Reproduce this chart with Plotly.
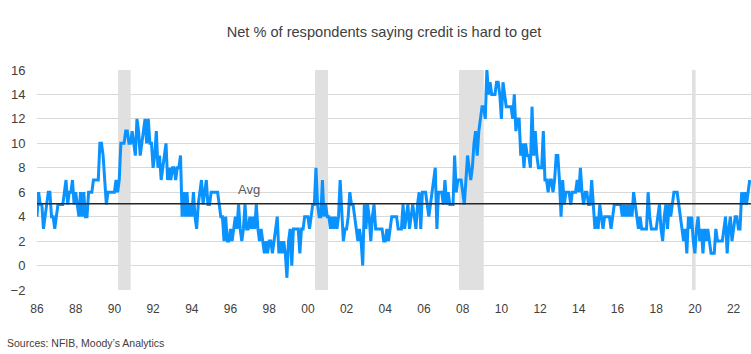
import plotly.graph_objects as go

title_text = "Net % of respondents saying credit is hard to get"
source_text = "Sources: NFIB, Moody’s Analytics"

start_year = 1986
# Monthly values, Jan 1986 onward (one row per year)
values = (
    [4, 6, 5, 5, 3, 4, 5, 6, 6, 4, 4, 3] +          # 1986
    [4, 5, 5, 5, 5, 6, 7, 5, 6, 6, 7, 5] +          # 1987
    [6, 5, 4, 6, 4, 6, 4, 4, 6, 6, 6, 7] +          # 1988
    [7, 7, 7, 10, 10, 9, 7, 5, 6, 6, 6, 6] +        # 1989
    [6, 7, 6, 7, 10, 10, 10, 11, 11, 10, 10, 11] +  # 1990
    [10, 9, 12, 11, 9, 10, 11, 12, 10, 12, 10, 10] +  # 1991
    [8, 9, 11, 8, 9, 7, 8, 9, 10, 7, 8, 7] +        # 1992
    [8, 8, 7, 8, 8, 9, 4, 6, 4, 6, 4, 5] +          # 1993
    [4, 6, 4, 3, 5, 6, 7, 5, 6, 7, 5, 5] +          # 1994
    [6, 6, 6, 6, 6, 5, 4, 4, 2, 4, 2, 2] +          # 1995
    [3, 2, 3, 4, 3, 5, 3, 2, 3, 5, 3, 3] +          # 1996
    [4, 3, 4, 3, 5, 3, 2, 3, 2, 1, 2, 1] +          # 1997
    [2, 2, 1, 2, 3, 4, 1, 2, 1, 2, 1, -1] +         # 1998
    [2, 3, 0, 3, 3, 3, 3, 1, 3, 3, 4, 4] +          # 1999
    [4, 3, 4, 5, 5, 8, 5, 4, 4, 7, 4, 5] +          # 2000
    [4, 4, 3, 4, 3, 4, 3, 4, 7, 4, 2, 3] +          # 2001
    [3, 4, 6, 5, 5, 4, 3, 2, 3, 2, 0, 5] +          # 2002
    [3, 5, 4, 2, 4, 5, 3, 3, 3, 3, 3, 2] +          # 2003
    [2, 3, 2, 3, 4, 4, 4, 4, 3, 3, 3, 5] +          # 2004
    [3, 4, 5, 3, 4, 5, 4, 3, 5, 6, 3, 6] +          # 2005
    [6, 6, 5, 4, 5, 6, 7, 8, 3, 6, 6, 6] +          # 2006
    [5, 7, 5, 6, 5, 5, 5, 9, 6, 7, 7, 7] +          # 2007
    [6, 5, 7, 9, 8, 7, 8, 10, 11, 9, 11, 12] +      # 2008
    [13, 13, 12, 16, 14, 15, 14, 14, 14, 15, 15, 14] +  # 2009
    [12, 15, 14, 13, 13, 13, 13, 12, 14, 11, 12, 12] +  # 2010
    [9, 10, 8, 10, 9, 9, 8, 13, 9, 11, 9, 8] +      # 2011
    [8, 8, 11, 7, 7, 6, 7, 7, 6, 7, 9, 9] +         # 2012
    [7, 4, 7, 5, 6, 6, 6, 5, 6, 6, 6, 7] +          # 2013
    [6, 8, 6, 5, 6, 6, 5, 5, 7, 5, 3, 4] +          # 2014
    [3, 5, 4, 3, 4, 4, 4, 4, 3, 4, 5, 5] +          # 2015
    [5, 5, 5, 4, 5, 4, 5, 4, 5, 4, 6, 5] +          # 2016
    [4, 3, 4, 3, 3, 3, 3, 6, 4, 3, 3, 3] +          # 2017
    [3, 4, 5, 3, 2, 4, 5, 3, 5, 4, 5, 6] +          # 2018
    [6, 6, 5, 4, 3, 2, 3, 1, 4, 3, 4, 2] +          # 2019
    [1, 3, 4, 2, 3, 1, 3, 2, 3, 2, 1, 1] +          # 2020
    [1, 3, 2, 2, 2, 2, 3, 4, 1, 3, 4, 2] +          # 2021
    [3, 4, 4, 3, 3, 6, 5, 6, 5, 6, 7]               # 2022
)

avg_value = 5.05
avg_label = "Avg"

recession_starts = [1990.19, 2000.37, 2007.81, 2019.85]
recession_ends = [1990.84, 2001.04, 2009.09, 2020.04]

tick_vals = list(range(1986, 2023, 2))
tick_text = ["86", "88", "90", "92", "94", "96", "98", "00", "02", "04",
             "06", "08", "10", "12", "14", "16", "18", "20", "22"]
y_ticks = list(range(-2, 17, 2))

x_dates = [start_year + i / 12 for i in range(len(values))]

FONT = "Liberation Sans, Arial, sans-serif"

W, H = 751, 354
ML, MR, MT, MB = 37, 0, 70, 64
PW, PH = W - ML - MR, H - MT - MB


def px_to_paper(px, py):
    return (px - ML) / PW, (H - MB - py) / PH


fig = go.Figure()

fig.add_trace(go.Scatter(
    x=x_dates, y=values, mode="lines",
    line=dict(color="#0A93FF", width=3),
    hoverinfo="skip", showlegend=False, cliponaxis=False,
))

fig.add_trace(go.Scatter(
    x=[1986.0, 2022.9], y=[avg_value, avg_value], mode="lines",
    line=dict(color="#262626", width=1.5),
    hoverinfo="skip", showlegend=False,
))

for s, e in zip(recession_starts, recession_ends):
    fig.add_shape(type="rect", xref="x", yref="y", x0=s, x1=e, y0=-2, y1=16,
                  fillcolor="#E0E0E0", line=dict(width=0), layer="between")

fig.add_annotation(x=1996.95, y=6.26, xref="x", yref="y", text=avg_label,
                   showarrow=False, xanchor="center", yanchor="middle",
                   font=dict(family=FONT, size=13, color="#595959"))

sx, sy = px_to_paper(5, 343)
fig.add_annotation(x=sx, y=sy, xref="paper", yref="paper",
                   xanchor="left", yanchor="middle", text=source_text,
                   showarrow=False, font=dict(family=FONT, size=10.5, color="#404040"))

fig.update_layout(
    width=W, height=H,
    margin=dict(l=ML, r=MR, t=MT, b=MB),
    paper_bgcolor="white", plot_bgcolor="white",
    title=dict(text=title_text, x=384 / W, xanchor="center",
               y=1 - 32 / H, yanchor="middle", yref="container",
               font=dict(family=FONT, size=14.6, color="#404040")),
    xaxis=dict(range=[1986.0, 2022.9], tickmode="array", tickvals=tick_vals,
               ticktext=tick_text, showgrid=False, zeroline=False, showline=False,
               ticks="outside", ticklen=8, tickcolor="rgba(0,0,0,0)",
               tickfont=dict(family=FONT, size=12, color="#404040")),
    yaxis=dict(range=[-2, 16], tickmode="array", tickvals=y_ticks,
               showgrid=True, gridcolor="#D9D9D9", gridwidth=1, zeroline=False,
               showline=False, ticks="outside", ticklen=8, tickcolor="rgba(0,0,0,0)",
               tickfont=dict(family=FONT, size=13, color="#404040")),
)

fig.write_html("out.html")
